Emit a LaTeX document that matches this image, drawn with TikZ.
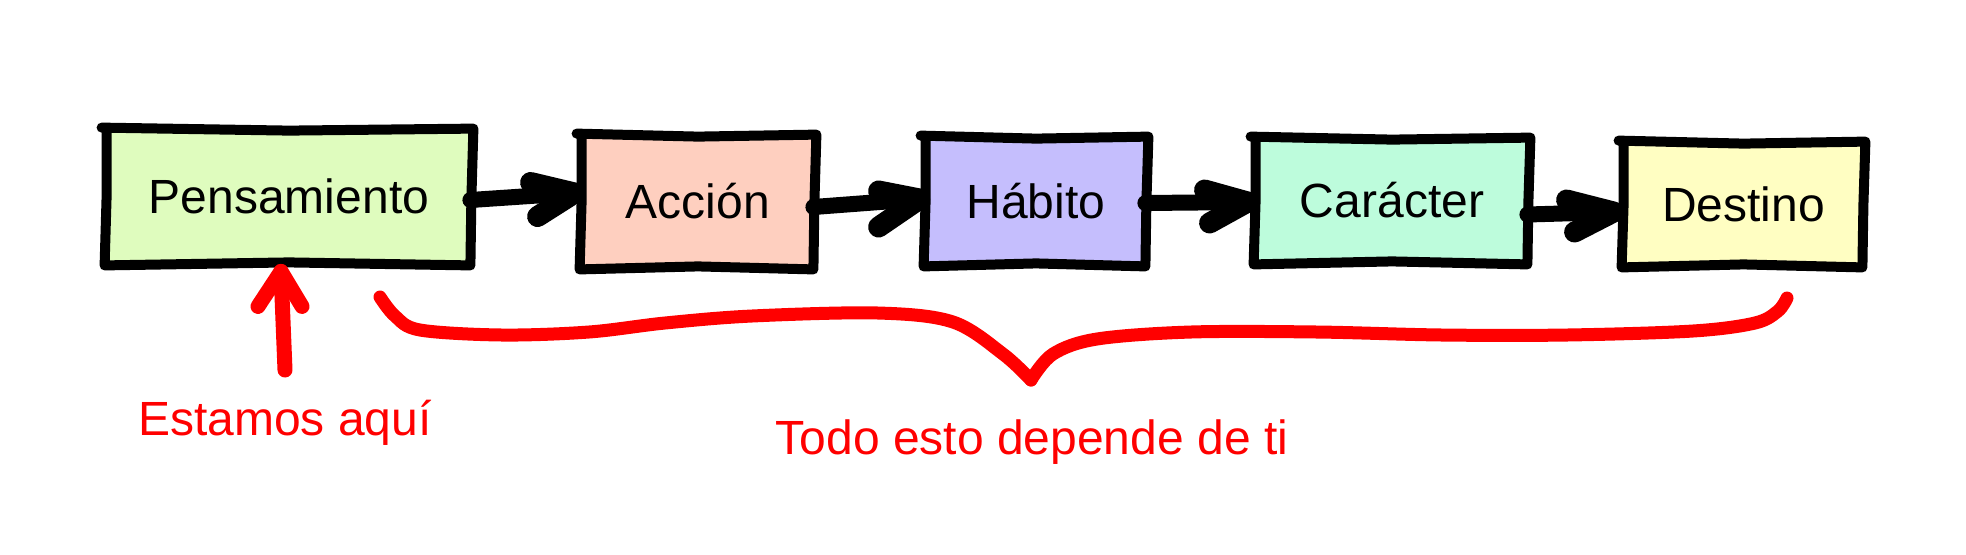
\documentclass[tikz,border=0pt]{standalone}
\usepackage{fontspec}
\setmainfont{Liberation Sans}
\usetikzlibrary{calc}
\definecolor{cP}{HTML}{DFFCBE}
\definecolor{cA}{HTML}{FECFBF}
\definecolor{cH}{HTML}{C5BEFD}
\definecolor{cC}{HTML}{BDFCDC}
\definecolor{cD}{HTML}{FFFEC2}
\definecolor{redink}{HTML}{FF0000}
\newcommand{\sketchbox}[1]{%
  \draw[boxline] ($(#1.north west)+(-6,-2)$) -- ($(#1.north)+(0,1)$) -- ($(#1.north east)+(3,-1)$)
    -- ($(#1.east)+(1,1)$) -- ($(#1.south east)+(0,2)$) -- ($(#1.south)+(0,-1)$)
    -- ($(#1.south west)+(-3,2)$) -- ($(#1.west)+(-1,0)$) -- ($(#1.north west)+(-1,0)$);}
\begin{document}
\begin{tikzpicture}[x=0.5pt,y=-0.5pt,
  sbox/.style={rectangle, inner sep=0pt, draw=none, text height=17.2pt, text depth=0pt,
    font=\fontsize{24}{28}\selectfont},
  boxline/.style={draw=black, line width=5pt, line cap=round, line join=round},
  conn/.style={draw=black, line width=8pt, line cap=round, line join=round},
  head/.style={draw=black, line width=10.5pt, line cap=round, line join=round},
  redline/.style={draw=redink, line width=6.5pt, line cap=round, line join=round},
  redtext/.style={text=redink, font=\fontsize{24}{28}\selectfont, inner sep=0pt, anchor=base}]
\fill[white] (0,0) rectangle (1966,554);
\useasboundingbox (0,0) rectangle (1966,554);

% boxes
\node[sbox, fill=cP, minimum width=181pt, minimum height=66.5pt] (P) at (289,196.5) {Pensamiento};
\node[sbox, fill=cA, minimum width=115pt, minimum height=65.5pt] (A) at (698,201.5) {Acción};
\node[sbox, fill=cH, minimum width=109pt, minimum height=63pt] (H) at (1036,201) {Hábito};
\node[sbox, fill=cC, minimum width=135pt, minimum height=61.5pt] (C) at (1392,200.5) {Carácter};
\node[sbox, fill=cD, minimum width=118.5pt, minimum height=61pt] (D) at (1743.5,204) {Destino};
\sketchbox{P}
\sketchbox{A}
\sketchbox{H}
\sketchbox{C}
\sketchbox{D}

% arrows
\draw[conn] ($(P.east)+(0,3.5)$) -- ($(A.west)+(-8,-8.5)$);
\draw[head] ($(A.west)+(-52,-19)$) -- ($(A.west)+(-8,-8.5)$) -- ($(A.west)+(-45,15)$);

\draw[conn] ($(A.east)+(0,5.5)$) -- ($(H.west)+(-7,-2)$);
\draw[head] ($(H.west)+(-48,-10)$) -- ($(H.west)+(-7,-2)$) -- ($(H.west)+(-48,26)$);

\draw[conn] ($(H.east)+(0,2)$) -- ($(C.west)+(-9,1.5)$);
\draw[head] ($(C.west)+(-52,-10.5)$) -- ($(C.west)+(-9,1.5)$) -- ($(C.west)+(-47,22.5)$);

\draw[conn] ($(C.east)+(0,14)$) -- ($(D.west)+(-11,8)$);
\draw[head] ($(D.west)+(-58,-4)$) -- ($(D.west)+(-11,8)$) -- ($(D.west)+(-50,28)$);

% red annotations
\node[redtext] (E) at (285,435) {Estamos aquí};
\node[redtext] (T) at (1032,454) {Todo esto depende de ti};
\coordinate (rbase) at (285,370);
\draw[redline, line width=7.5pt] (rbase) -- ($(P.south)+(-8,8)$);
\draw[redline, line width=7.5pt] ($(P.south)+(-31,43)$) -- ($(P.south)+(-8,8)$) -- ($(P.south)+(13,43)$);

\draw[redline] plot[smooth, tension=0.55] coordinates {(380,297) (395,316) (420,330) (502,335) (589,332) (665,323) (752,316) (878,313) (953,322) (1003,354) (1031,380)};
\draw[redline] plot[smooth, tension=0.55] coordinates {(1031,380) (1053,354) (1097,339) (1191,332) (1317,332) (1442,335) (1567,335) (1693,331) (1755,323) (1778,311) (1787,298)};
\end{tikzpicture}
\end{document}
